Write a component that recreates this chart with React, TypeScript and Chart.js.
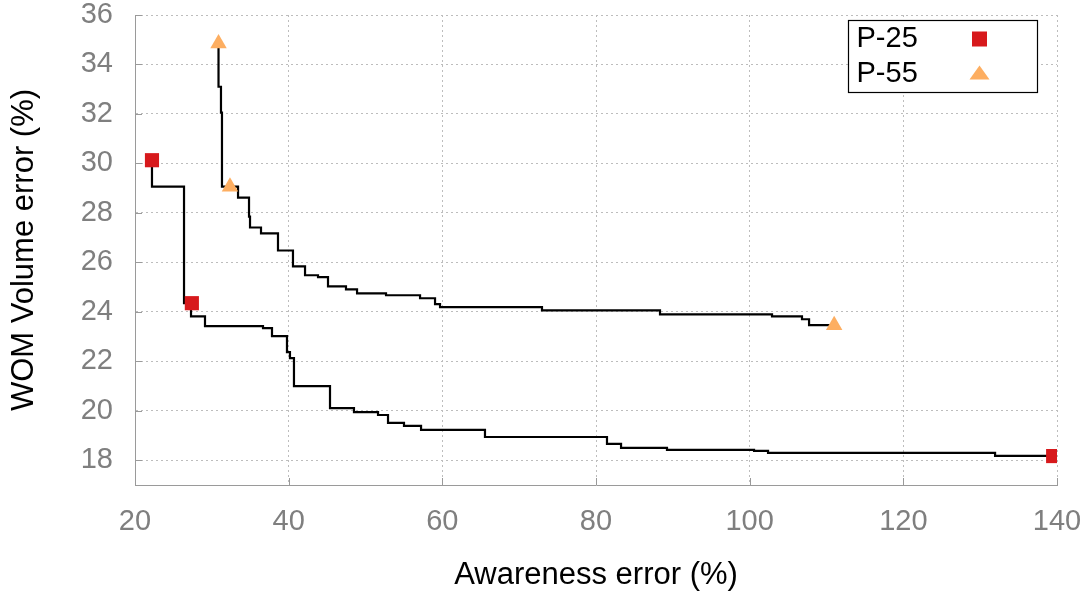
import React, { useEffect, useRef } from 'react';
import { Chart, registerables } from 'chart.js';

Chart.register(...registerables);

// ---- data ----
// P-25 staircase frontier: each point is the right end of a horizontal step
const P25_FRONT_X = [22.21, 26.38, 27.29, 29.11, 36.66, 37.83, 39.78, 40.17, 40.69, 45.38, 48.5, 51.63, 52.93, 55.01, 57.23, 65.55, 81.43, 83.26, 89.24, 100.57, 102.39, 131.94, 139.4];
const P25_FRONT_Y = [30.13, 29.06, 24.35, 23.82, 23.42, 23.34, 23.02, 22.37, 22.13, 21.0, 20.11, 19.95, 19.83, 19.51, 19.39, 19.23, 18.94, 18.66, 18.5, 18.42, 18.38, 18.3, 18.18];

// P-55 staircase frontier
const P55_FRONT_X = [30.87, 31.19, 31.32, 33.41, 34.84, 34.97, 36.4, 38.61, 40.56, 42.13, 43.82, 45.12, 47.46, 48.9, 52.67, 57.1, 59.05, 59.7, 72.97, 88.33, 102.91, 106.81, 107.73, 111.0];
const P55_FRONT_Y = [34.85, 33.1, 32.05, 29.06, 28.62, 27.85, 27.41, 27.17, 26.48, 25.84, 25.48, 25.4, 25.03, 24.91, 24.75, 24.67, 24.55, 24.31, 24.19, 24.06, 23.9, 23.82, 23.7, 23.46];

// highlighted points
const P25_MARK_X = [22.21, 27.4, 139.5];
const P25_MARK_Y = [30.13, 24.35, 18.17];
const P55_MARK_X = [30.87, 32.36, 111.0];
const P55_MARK_Y = [34.85, 29.06, 23.46];

const SERIES_LABELS = ['P-25', 'P-55'];
const X_TITLE = 'Awareness error (%)';
const Y_TITLE = 'WOM Volume error (%)';
const X_MIN = 20, X_MAX = 140, X_STEP = 20;
const Y_MIN = 17, Y_MAX = 36, Y_STEP = 2;

const FONT = "'Liberation Sans', Arial, Helvetica, sans-serif";
const RED = '#d7191c';
const ORANGE = '#fdae61';
const AXIS_GRAY = '#9a9a9a';
const GRID_GRAY = '#bdbdbd';
const TICK_TEXT = '#7f7f7f';

const pts = (xs: number[], ys: number[]) => xs.map((x, i) => ({ x, y: ys[i] }));

const decorPlugin = {
  id: 'decor',
  afterDraw(chart: any) {
    const { ctx, chartArea, scales } = chart;
    // inward tick marks
    ctx.save();
    ctx.strokeStyle = AXIS_GRAY;
    ctx.lineWidth = 1;
    ctx.beginPath();
    scales.x.ticks.forEach((t: any) => {
      const px = Math.round(scales.x.getPixelForValue(t.value)) + 0.5;
      ctx.moveTo(px, chartArea.bottom);
      ctx.lineTo(px, chartArea.bottom - 7);
    });
    scales.y.ticks.forEach((t: any) => {
      const py = Math.round(scales.y.getPixelForValue(t.value)) + 0.5;
      ctx.moveTo(chartArea.left, py);
      ctx.lineTo(chartArea.left + 7, py);
    });
    ctx.stroke();

    // legend box: text first, marker after
    const w = 189, h = 72;
    const bx = Math.round(chartArea.right - 20 - w) + 0.5;
    const by = Math.round(chartArea.top + 5) + 0.5;
    ctx.fillStyle = '#ffffff';
    ctx.fillRect(bx, by, w, h);
    ctx.strokeStyle = '#000000';
    ctx.lineWidth = 1.2;
    ctx.strokeRect(bx, by, w, h);
    ctx.font = `29px ${FONT}`;
    ctx.textBaseline = 'middle';
    ctx.textAlign = 'left';
    const rows = [by + 18, by + 53];
    const mx = bx + 131;
    SERIES_LABELS.forEach((lab, i) => {
      ctx.fillStyle = '#000000';
      ctx.fillText(lab, bx + 8, rows[i]);
    });
    // square
    ctx.fillStyle = RED;
    ctx.fillRect(mx - 7.5, rows[0] - 7, 15, 15);
    // triangle
    ctx.fillStyle = ORANGE;
    ctx.beginPath();
    ctx.moveTo(mx, rows[1] - 8);
    ctx.lineTo(mx + 10, rows[1] + 6);
    ctx.lineTo(mx - 10, rows[1] + 6);
    ctx.closePath();
    ctx.fill();
    ctx.restore();
  },
};

export default function App() {
  const ref = useRef<HTMLCanvasElement | null>(null);

  useEffect(() => {
    document.body.style.margin = '0';
    if (!ref.current) return;
    const chart = new Chart(ref.current, {
      type: 'line',
      data: {
        datasets: [
          {
            label: SERIES_LABELS[0],
            data: pts(P25_MARK_X, P25_MARK_Y),
            showLine: false,
            pointStyle: 'rect',
            pointRadius: 10,
            pointBackgroundColor: RED,
            pointBorderWidth: 0,
            pointBorderColor: RED,
          },
          {
            label: SERIES_LABELS[1],
            data: pts(P55_MARK_X, P55_MARK_Y),
            showLine: false,
            pointStyle: 'triangle',
            pointRadius: 9.5,
            pointBackgroundColor: ORANGE,
            pointBorderWidth: 0,
            pointBorderColor: ORANGE,
          },
          {
            label: 'P-25 frontier',
            data: pts(P25_FRONT_X, P25_FRONT_Y),
            stepped: 'after',
            borderColor: '#000000',
            borderWidth: 2.2,
            pointRadius: 0,
            fill: false,
          },
          {
            label: 'P-55 frontier',
            data: pts(P55_FRONT_X, P55_FRONT_Y),
            stepped: 'after',
            borderColor: '#000000',
            borderWidth: 2.2,
            pointRadius: 0,
            fill: false,
          },
        ],
      } as any,
      options: {
        responsive: false,
        animation: false,
        events: [],
        layout: { padding: { top: 15, right: 31, left: 0, bottom: 0 } },
        plugins: {
          legend: { display: false },
          tooltip: { enabled: false },
        },
        scales: {
          x: {
            type: 'linear',
            min: X_MIN,
            max: X_MAX,
            ticks: {
              stepSize: X_STEP,
              color: TICK_TEXT,
              font: { family: FONT, size: 29, lineHeight: 1 },
              padding: 0,
              maxRotation: 0,
            },
            grid: { color: GRID_GRAY, lineWidth: 1, drawTicks: true, tickLength: 22, tickColor: 'rgba(0,0,0,0)' },
            border: { display: true, color: AXIS_GRAY, width: 1, dash: [2, 3] },
            title: {
              display: true,
              text: X_TITLE,
              color: '#000000',
              font: { family: FONT, size: 31, lineHeight: 1.2 },
              padding: { top: 0, bottom: 2 },
            },
            afterFit: (s: any) => { s.height = 111; },
          },
          y: {
            type: 'linear',
            min: Y_MIN,
            max: Y_MAX,
            ticks: {
              stepSize: Y_STEP,
              includeBounds: false,
              color: TICK_TEXT,
              font: { family: FONT, size: 29, lineHeight: 1 },
              padding: 0,
            },
            grid: { color: GRID_GRAY, lineWidth: 1, drawTicks: true, tickLength: 22, tickColor: 'rgba(0,0,0,0)' },
            border: { display: true, color: AXIS_GRAY, width: 1, dash: [2, 3] },
            title: {
              display: true,
              text: Y_TITLE,
              color: '#000000',
              font: { family: FONT, size: 31, lineHeight: 1.2 },
              padding: { top: 6, bottom: 0 },
            },
            afterFit: (s: any) => { s.width = 135; },
          },
        },
      } as any,
      plugins: [decorPlugin],
    });
    return () => chart.destroy();
  }, []);

  return (
    <canvas ref={ref} width={1088} height={596} style={{ display: 'block' }} />
  );
}
